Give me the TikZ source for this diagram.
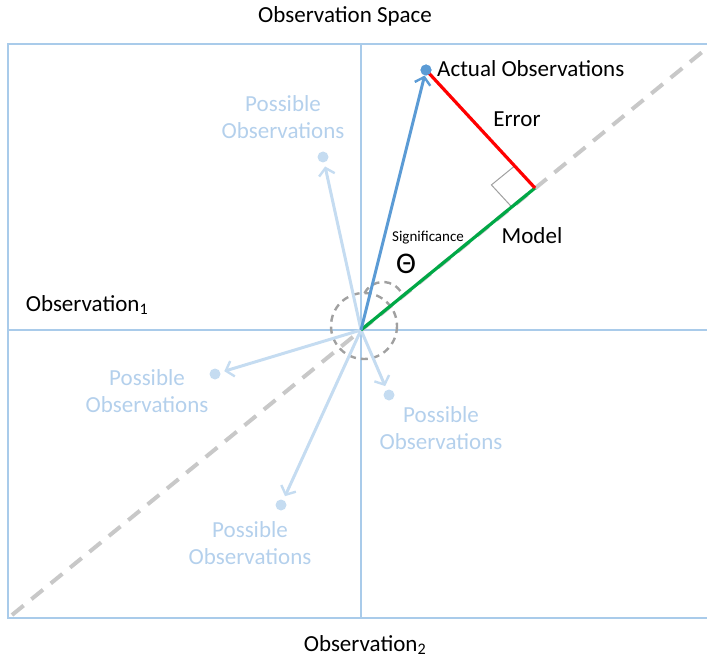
\documentclass[tikz,border=0pt]{standalone}
\usepackage{fontspec}
\setmainfont{Carlito}
\usetikzlibrary{arrows.meta,calc}
\definecolor{frameblue}{HTML}{A9CBEA}
\definecolor{possblue}{HTML}{C5DCF1}
\definecolor{posstext}{HTML}{B4D0EC}
\definecolor{actblue}{HTML}{5B9BD5}
\definecolor{errred}{HTML}{FF0000}
\definecolor{modgreen}{HTML}{00A846}
\definecolor{dashgray}{HTML}{C8C8C8}
\definecolor{circgray}{HTML}{A0A0A0}
\begin{document}
\begin{tikzpicture}[x=1pt,y=-1pt,
  lbl/.style={font=\fontsize{23}{26.4}\selectfont, inner sep=0pt},
  posslbl/.style={lbl, text=posstext, align=center},
  dotnode/.style={circle, inner sep=0pt, minimum size=11pt, fill=#1},
  framestyle/.style={draw=frameblue, line width=1.6pt},
  possarrow/.style={draw=possblue, line width=3pt, shorten >=4pt,
    -{Straight Barb[length=7pt,width=16pt,line width=2.4pt]}},
  actarrow/.style={draw=actblue, line width=3pt,
    -{Straight Barb[length=7pt,width=16pt,line width=2.4pt]}},
  diag/.style={draw=dashgray, line width=4pt, dash pattern=on 15pt off 10pt},
  circdash/.style={draw=circgray, line width=2.4pt, dash pattern=on 7pt off 5pt}
]
\useasboundingbox (0,0) rectangle (707,658);
% frame and axes
\draw[framestyle] (712,44) -- (8,44) -- (8,618) -- (712,618);
\coordinate (O) at (361,330);
\coordinate (vt) at (361,44);
\coordinate (vb) at (361,618);
\coordinate (hl) at (8,330);
\coordinate (hr) at (712,330);
\draw[framestyle, line width=1.3pt] (vt) -- (vb);
\draw[framestyle, line width=1.3pt] (hl) -- (hr);
% diagonal dashed line
\coordinate (dl) at (12,615);
\coordinate (dr) at (712,44);
\draw[diag] (dl) -- (dr);
% dashed circles
\draw[circdash] (364,326) circle[radius=33];
\draw[circdash] (383,303) ++(-152:21) arc[start angle=-152, end angle=-28, radius=21];
% possible observations
\node[dotnode=possblue] (p1) at (323,157) {};
\node[dotnode=possblue] (p2) at (215,374) {};
\node[dotnode=possblue] (p3) at (389,395) {};
\node[dotnode=possblue] (p4) at (281,505) {};
\draw[possarrow] (O) -- (p1);
\draw[possarrow] (O) -- (p2);
\draw[possarrow] (O) -- (p3);
\draw[possarrow] (O) -- (p4);
\node[posslbl] (l1) at (283,117) {Possible\\Observations};
\node[posslbl] (l2) at (147,391) {Possible\\Observations};
\node[posslbl] (l3) at (441,428) {Possible\\Observations};
\node[posslbl] (l4) at (250,543) {Possible\\Observations};
% model, error, actual
\node[dotnode=actblue] (A) at (426,70) {};
\coordinate (M) at (535,188);
\coordinate (r1) at ($(M)!30pt!(A)$);
\coordinate (r3) at ($(M)!30pt!(O)$);
\coordinate (r2) at ($(r1)+(r3)-(M)$);
\draw[draw=circgray, line width=1pt] (r1) -- (r2) -- (r3);
\draw[draw=modgreen, line width=3.2pt] (O) -- (M);
\draw[draw=errred, line width=3.2pt] (A.center) -- (M);
\draw[actarrow] (O) -- (A);
\node[dotnode=actblue] (A2) at (426,70) {};
% labels
\node[lbl, anchor=west] (act) at (437,69) {Actual Observations};
\node[lbl] (err) at (517,119) {Error};
\node[lbl] (mod) at (532,236) {Model};
\node[font=\fontsize{15}{17}\selectfont, inner sep=0pt] (sig) at (428,238) {Significance};
\node[font=\fontsize{30}{34}\selectfont, inner sep=0pt] (th) at (406,264) {Θ};
\node[lbl] (title) at (345,16) {Observation Space};
\node[lbl] (ob1) at (87,305) {Observation\textsubscript{1}};
\node[lbl] (ob2) at (365,645) {Observation\textsubscript{2}};
\end{tikzpicture}
\end{document}
